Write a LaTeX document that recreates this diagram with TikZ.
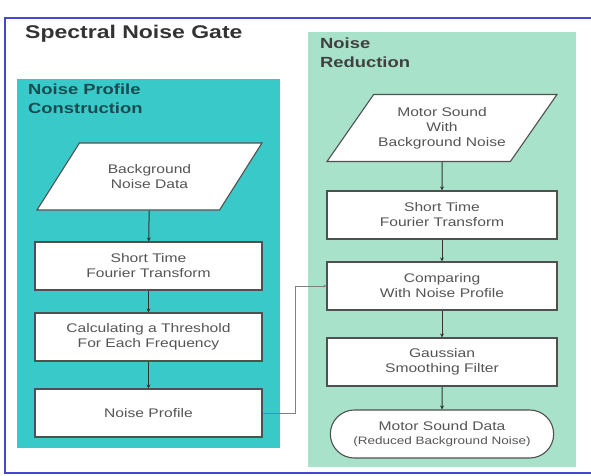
\documentclass[tikz,border=0pt]{standalone}
\usepackage{fontspec}
\setmainfont[FakeStretch=1.25]{Liberation Sans}
\definecolor{gateblue}{RGB}{70, 70, 210}
\definecolor{profileteal}{RGB}{58, 201, 201}
\definecolor{reducegreen}{RGB}{168, 226, 202}
\definecolor{boxgray}{RGB}{80, 80, 80}
\definecolor{txtgray}{RGB}{85, 85, 85}
\usetikzlibrary{shapes.geometric, shapes.misc, arrows.meta, positioning}

\tikzset{
  procbox/.style={draw=boxgray, fill=white, line width=1.1pt, minimum width=#1, minimum height=48pt, align=center, font=\fontsize{12.5}{15}\selectfont, text=txtgray},
  procbox/.default=227pt,
  databox/.style={trapezium, trapezium left angle=36, trapezium right angle=144, trapezium stretches body, draw=boxgray, fill=white, line width=1.1pt, minimum width=#1, minimum height=67pt, align=center, font=\fontsize{12.5}{15}\selectfont, text=txtgray},
  flow/.style={draw=black!80, line width=1pt, -{Stealth[length=4pt, width=4pt]}},
  panelhead/.style={anchor=north west, align=left, font=\bfseries\fontsize{14.7}{19}\selectfont, inner sep=0pt}
}

\begin{document}
\begin{tikzpicture}[x=1pt, y=-1pt]
  \useasboundingbox (0,0) rectangle (591,476);
  \draw[gateblue, line width=1.5pt] (592,18) -- (5,18) -- (5,473) -- (592,473);
  \node[anchor=north west, inner sep=0pt, font=\bfseries\fontsize{18.4}{22}\selectfont, text=black!80] (title) at (25,25) {Spectral Noise Gate};

  % noise profile construction
  \fill[profileteal] (17,79) rectangle (280,448);
  \node[panelhead, text={rgb,255:red,25;green,75;blue,80}] (profhead) at (28,84) {Noise Profile\\Construction};
  \node[databox=225pt] (bgdata) at (149.5,176.5) {Background\\Noise Data};
  \node[procbox] (stftA) at (148.5,266) {Short Time\\Fourier Transform};
  \node[procbox] (thresh) at (148.5,337) {Calculating a Threshold\\For Each Frequency};
  \node[procbox] (profile) at (148.5,413) {Noise Profile};

  % noise reduction
  \fill[reducegreen] (308,32) rectangle (576,467);
  \node[panelhead, text=black!75] (redhead) at (320,38) {Noise\\Reduction};
  \node[databox=230pt, trapezium left angle=46, trapezium right angle=134] (motor) at (442,128) {Motor Sound\\With\\Background Noise};
  \node[procbox=230pt] (stftB) at (442,215) {Short Time\\Fourier Transform};
  \node[procbox=230pt] (compare) at (442,286) {Comparing\\With Noise Profile};
  \node[procbox=230pt] (gauss) at (442,362) {Gaussian\\Smoothing Filter};
  \node[rounded rectangle, draw=boxgray, fill=white, line width=1.1pt, minimum width=230pt, minimum height=48pt, align=center, text=txtgray, font=\fontsize{12.5}{14}\selectfont] (result) at (442,434) {Motor Sound Data\\{\fontsize{10.8}{12}\selectfont(Reduced Background Noise)}};

  \draw[flow] (bgdata) -- (stftA);
  \draw[flow] (stftA) -- (thresh);
  \draw[flow] (thresh) -- (profile);
  \draw[flow] (motor) -- (stftB);
  \draw[flow] (stftB) -- (compare);
  \draw[flow] (compare) -- (gauss);
  \draw[flow] (gauss) -- (result);
  \draw[gray, line width=0.7pt, -{Stealth[length=3pt, width=3pt]}] (profile.east) -- ++(33,0) |- (compare.west);
\end{tikzpicture}
\end{document}
